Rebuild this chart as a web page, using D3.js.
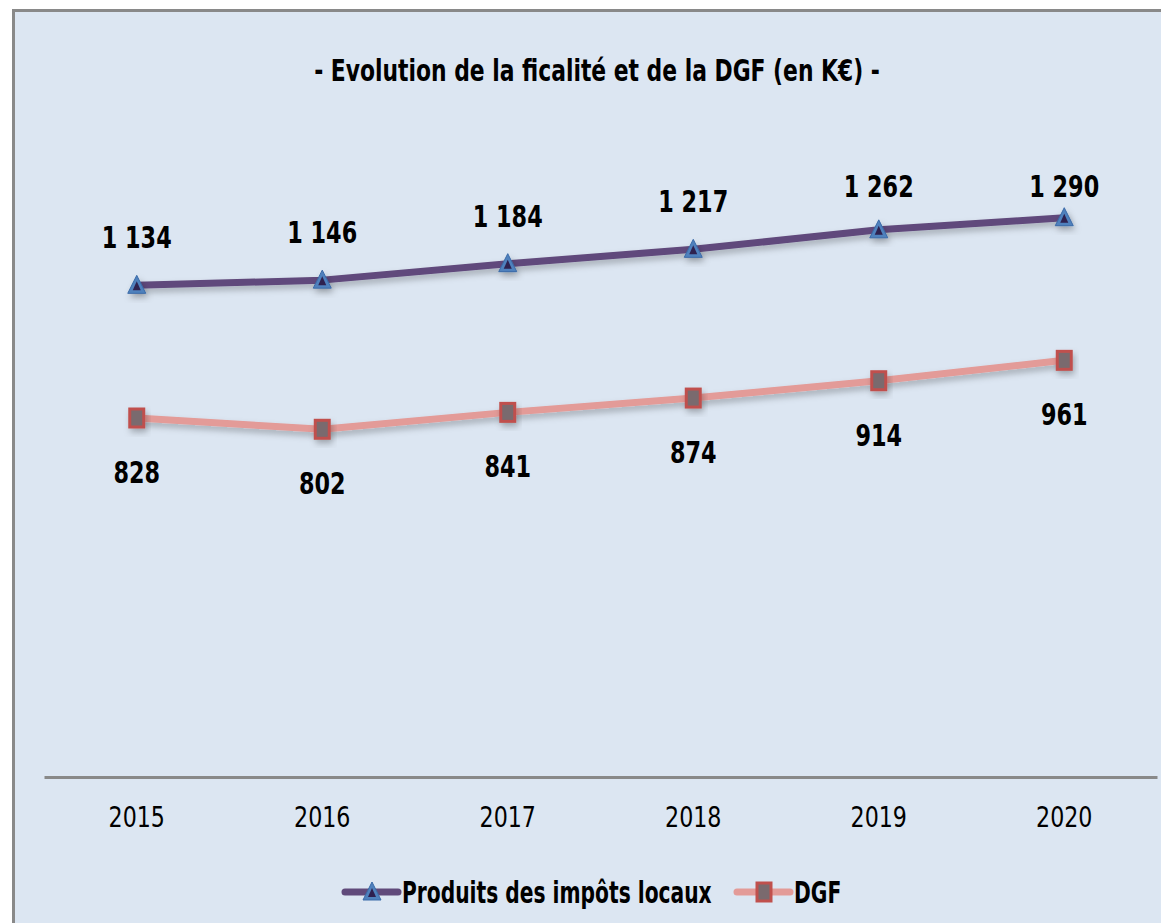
<!DOCTYPE html>
<html>
<head>
<meta charset="utf-8">
<script src="https://cdn.jsdelivr.net/npm/d3@7"></script>
<style>
  body { margin: 0; background: #fff; }
  text { font-family: "DejaVu Sans Condensed", "Liberation Sans Narrow", sans-serif; }
</style>
</head>
<body>
<div id="chart"></div>
<script>
// Data
var years = ["2015", "2016", "2017", "2018", "2019", "2020"];
var impots = [1134, 1146, 1184, 1217, 1262, 1290];
var dgf = [828, 802, 841, 874, 914, 961];
var seriesNames = ["Produits des impôts locaux", "DGF"];

var svgWidth = 1161;
var svgHeight = 923;

var margin = { top: 170, right: 4, bottom: 146, left: 44 };
var chartWidth = svgWidth - margin.left - margin.right;
var chartHeight = svgHeight - margin.top - margin.bottom;

// narrow the condensed font a bit more, closer to the original look
var squeeze = 0.8;

var svg = d3.select("#chart")
  .append("svg")
  .attr("width", svgWidth)
  .attr("height", svgHeight);

// chart frame
svg.append("rect")
  .attr("x", 13.5)
  .attr("y", 10.5)
  .attr("width", svgWidth + 10)
  .attr("height", svgHeight + 10)
  .attr("fill", "#dce6f2")
  .attr("stroke", "#898989")
  .attr("stroke-width", 3);

svg.append("text")
  .attr("transform", `translate(597, 81) scale(0.81, 1)`)
  .attr("text-anchor", "middle")
  .attr("font-size", 30)
  .attr("font-weight", "bold")
  .text("- Evolution de la ficalité et de la DGF (en K€) -");

var chartGroup = svg.append("g")
  .attr("transform", `translate(${margin.left}, ${margin.top})`);

var xScale = d3.scaleBand()
  .domain(years)
  .range([0, chartWidth]);

var yScale = d3.scaleLinear()
  .domain([0, 1400])
  .range([chartHeight, 0]);

var xc = d => xScale(d) + xScale.bandwidth() / 2;

// x axis
var xAxis = chartGroup.append("g")
  .attr("transform", `translate(0, ${chartHeight})`)
  .call(d3.axisBottom(xScale).tickSize(0).tickPadding(30));
xAxis.select(".domain").attr("stroke", "#898989").attr("stroke-width", 3);
xAxis.selectAll("text")
  .attr("font-size", 28)
  .attr("fill", "#000")
  .attr("transform", "scale(0.88, 1)")
  .style("font-family", "'DejaVu Sans Condensed', sans-serif");

var line = d3.line()
  .x((d, i) => xc(years[i]))
  .y(d => yScale(d));

// shadows
var defs = svg.append("defs");
var f = defs.append("filter").attr("id", "shadow").attr("x", "-50%").attr("y", "-50%").attr("width", "200%").attr("height", "200%");
f.append("feDropShadow").attr("dx", 2).attr("dy", 4).attr("stdDeviation", 3).attr("flood-color", "#000").attr("flood-opacity", 0.25);

chartGroup.append("path")
  .datum(impots)
  .attr("d", line)
  .attr("fill", "none")
  .attr("stroke", "#604a7b")
  .attr("stroke-width", 7)
  .attr("stroke-linejoin", "round")
  .attr("stroke-linecap", "round")
  .attr("filter", "url(#shadow)");

chartGroup.append("path")
  .datum(dgf)
  .attr("d", line)
  .attr("fill", "none")
  .attr("stroke", "#e39b98")
  .attr("stroke-width", 7)
  .attr("stroke-linejoin", "round")
  .attr("stroke-linecap", "round")
  .attr("filter", "url(#shadow)");

function triangle(g) {
  g.append("path")
    .attr("d", "M0,-10 L9,8 L-9,8 Z")
    .attr("fill", "#4f81bd")
    .attr("stroke", "#3a6aa8")
    .attr("stroke-width", 1);
  g.append("path")
    .attr("d", "M0,-4 L4,5 L-4,5 Z")
    .attr("fill", "#2e2050");
}

function square(g) {
  g.append("rect")
    .attr("x", -7).attr("y", -9)
    .attr("width", 14).attr("height", 18)
    .attr("fill", "#7a6a6e")
    .attr("stroke", "#c0504d")
    .attr("stroke-width", 3);
}

chartGroup.selectAll(".tri")
  .data(impots)
  .enter()
  .append("g")
  .attr("transform", (d, i) => `translate(${xc(years[i])}, ${yScale(d)})`)
  .attr("filter", "url(#shadow)")
  .each(function() { triangle(d3.select(this)); });

chartGroup.selectAll(".sq")
  .data(dgf)
  .enter()
  .append("g")
  .attr("transform", (d, i) => `translate(${xc(years[i])}, ${yScale(d)})`)
  .attr("filter", "url(#shadow)")
  .each(function() { square(d3.select(this)); });

var fmt = d => d3.format(",")(d).replace(",", " ");

// labels above the line, kept inside the plot area top
chartGroup.selectAll(".lblA")
  .data(impots)
  .enter()
  .append("text")
  .attr("transform", (d, i) => `translate(${xc(years[i])}, ${Math.max(yScale(d) - 37, 27)}) scale(${squeeze}, 1)`)
  .attr("text-anchor", "middle")
  .attr("font-size", 31)
  .attr("font-weight", "bold")
  .text(fmt);

chartGroup.selectAll(".lblB")
  .data(dgf)
  .enter()
  .append("text")
  .attr("transform", (d, i) => `translate(${xc(years[i])}, ${yScale(d) + 65}) scale(${squeeze}, 1)`)
  .attr("text-anchor", "middle")
  .attr("font-size", 31)
  .attr("font-weight", "bold")
  .text(fmt);

// legend
var legendItems = [
  { name: seriesNames[0], color: "#604a7b", x: 345, marker: triangle },
  { name: seriesNames[1], color: "#e39b98", x: 737, marker: square }
];
var legend = svg.append("g").attr("transform", "translate(0, 892)");
legendItems.forEach(function(it) {
  legend.append("line")
    .attr("x1", it.x).attr("x2", it.x + 53)
    .attr("stroke", it.color)
    .attr("stroke-width", 7)
    .attr("stroke-linecap", "round");
  var m = legend.append("g").attr("transform", `translate(${it.x + 27}, 0)`);
  it.marker(m);
  legend.append("text")
    .attr("transform", `translate(${it.x + 57}, 11) scale(0.75, 1)`)
    .attr("font-size", 30)
    .attr("font-weight", "bold")
    .text(it.name);
});
</script>
</body>
</html>
